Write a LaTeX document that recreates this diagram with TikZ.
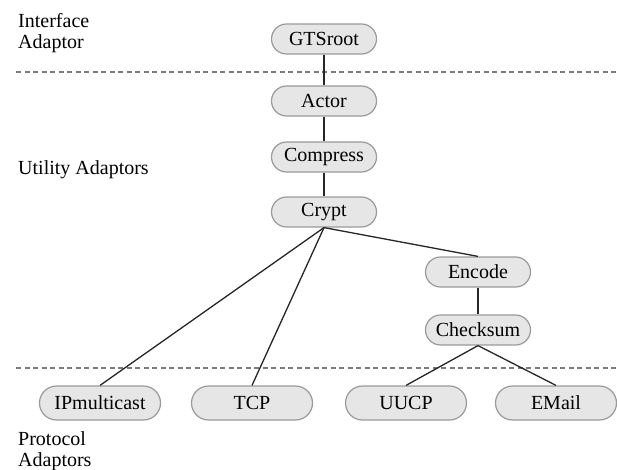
\documentclass[tikz,border=0pt]{standalone}
\usepackage{fontspec}
\setmainfont{Liberation Serif}
\usetikzlibrary{shapes.misc}
\definecolor{pillfill}{HTML}{E6E6E6}
\definecolor{pilledge}{HTML}{9A9A9A}
\definecolor{sepline}{HTML}{7A7A7A}
\begin{document}
\begin{tikzpicture}[x=1pt,y=-1pt,
  every node/.style={font=\fontsize{20}{21}\selectfont, inner sep=0pt},
  pill/.style={rounded rectangle, draw=pilledge, fill=pillfill, line width=1.2pt,
               minimum width=105pt, minimum height=30pt},
  widepill/.style={pill, minimum width=121pt, minimum height=34pt},
  link/.style={draw=black!85, line width=1.3pt},
  separator/.style={draw=sepline, line width=1.2pt, dash pattern=on 5pt off 3.5pt},
  layer/.style={anchor=base west, align=left}]
\useasboundingbox (0,0) rectangle (617,470);

% layer separators
\coordinate (s1a) at (16,72);  \coordinate (s1b) at (617,72);
\coordinate (s2a) at (16,368); \coordinate (s2b) at (617,368);
\draw[separator] (s1a) -- (s1b);
\draw[separator] (s2a) -- (s2b);

% layer captions (base anchor sits on the last line)
\node[layer] (lint)  at (18,49)  {Interface\\Adaptor};
\node[layer] (lutil) at (18,175) {Utility Adaptors};
\node[layer] (lprot) at (18,466) {Protocol\\Adaptors};

% adaptor stack
\node[pill] (gts)      at (324,39)  {GTSroot};
\node[pill] (actor)    at (324,101) {Actor};
\node[pill] (compress) at (324,157) {Compress};
\node[pill] (crypt)    at (324,212) {Crypt};
\node[pill] (encode)   at (478,272) {Encode};
\node[pill] (checksum) at (478,330) {Checksum};

\node[widepill] (ipm)   at (100,403) {IPmulticast};
\node[widepill] (tcp)   at (252,403) {TCP};
\node[widepill] (uucp)  at (406,403) {UUCP};
\node[widepill] (email) at (556,403) {EMail};

% connections
\draw[link] (gts.south) -- (actor.north);
\draw[link] (actor.south) -- (compress.north);
\draw[link] (compress.south) -- (crypt.north);
\draw[link] (crypt.south) -- (encode.north);
\draw[link] (crypt.south) -- (ipm.north);
\draw[link] (crypt.south) -- (tcp.north);
\draw[link] (encode.south) -- (checksum.north);
\draw[link] (checksum.south) -- (uucp.north);
\draw[link] (checksum.south) -- (email.north);
\end{tikzpicture}
\end{document}
